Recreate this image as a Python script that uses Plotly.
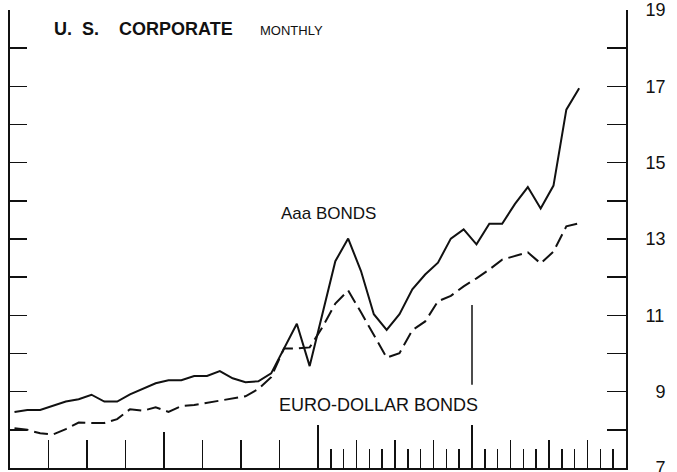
import plotly.graph_objects as go

# ---- data ----
obs_index = list(range(45))          # monthly observations, 4-year span
aaa_bonds = [8.47, 8.52, 8.52, 8.63, 8.74, 8.80, 8.92, 8.74, 8.74, 8.93,
             9.08, 9.22, 9.30, 9.30, 9.41, 9.41, 9.54, 9.35, 9.25, 9.27,
             9.48, 10.14, 10.78, 9.67, 11.03, 12.42, 13.01, 12.16, 11.03, 10.62,
             11.03, 11.68, 12.07, 12.38, 13.01, 13.25, 12.86, 13.40, 13.40, 13.92,
             14.36, 13.80, 14.40, 16.39, 16.95]
euro_dollar = [8.04, 8.00, 7.91, 7.88, 8.02, 8.19, 8.18, 8.18, 8.28, 8.54,
               8.50, 8.59, 8.47, 8.62, 8.65, 8.71, 8.76, 8.83, 8.88, 9.07,
               9.38, 10.13, 10.13, 10.16, 10.69, 11.31, 11.65, 11.08, 10.50, 9.89,
               10.01, 10.61, 10.84, 11.37, 11.51, 11.76, 11.97, 12.20, 12.46, 12.55,
               12.65, 12.36, 12.67, 13.33, 13.41]

y_ticks = list(range(7, 20))
y_labels = ["\u20077", "", "\u20079", "", "11", "", "13", "", "15", "", "17", "", "19"]
quarter_ticks = [3, 6, 9, 15, 18, 21, 27, 30, 33, 39, 42, 45]
month_ticks = [25, 26, 28, 29, 31, 32, 34, 35, 37, 38, 40, 41, 43, 44, 46, 47]
year_tick_first = [12]
year_ticks_later = [24, 36]
divider_month = 36
divider_span = [9.18, 11.27]

x_pos = [i + 0.35 for i in obs_index]

FONT = "Liberation Sans, Arial, Helvetica, sans-serif"
INK = "#111111"
NB = "\u00a0"

fig = go.Figure()
fig.add_trace(go.Scatter(x=x_pos, y=aaa_bonds, mode="lines",
                         line=dict(color=INK, width=2), showlegend=False, hoverinfo="skip"))
fig.add_trace(go.Scatter(x=x_pos, y=euro_dollar, mode="lines",
                         line=dict(color=INK, width=2, dash="14px,6px"), showlegend=False, hoverinfo="skip"))
# empty traces so the overlay axes exist
for xa, ya in [("x2", "y"), ("x3", "y"), ("x4", "y"), ("x", "y2"), ("x", "y3"), ("x", "y4")]:
    fig.add_trace(go.Scatter(x=[None], y=[None], xaxis=xa, yaxis=ya, showlegend=False, hoverinfo="skip"))

fig.add_trace(go.Scatter(x=[divider_month, divider_month], y=divider_span, mode="lines",
                         line=dict(color=INK, width=1.5), showlegend=False, hoverinfo="skip"))

xr = [0, 48]
yr = [7, 19]
base_x = dict(range=xr, showgrid=False, zeroline=False, showticklabels=False,
              ticks="inside", tickmode="array", tickcolor=INK, fixedrange=True,
              automargin=False)
base_y = dict(range=yr, showgrid=False, zeroline=False, ticks="inside",
              tickmode="array", tickcolor=INK, fixedrange=True, automargin=False)

fig.update_layout(
    width=677, height=472,
    margin=dict(l=10, r=51, t=10, b=4),
    paper_bgcolor="white", plot_bgcolor="white",
    font=dict(family=FONT, color=INK),
    xaxis=dict(**base_x, tickvals=quarter_ticks, ticklen=28, tickwidth=1.5,
               showline=True, linecolor=INK, linewidth=2, anchor="y"),
    xaxis2=dict(**base_x, tickvals=month_ticks, ticklen=19, tickwidth=1.5,
                overlaying="x", anchor="y", showline=False),
    xaxis3=dict(**base_x, tickvals=year_tick_first, ticklen=36, tickwidth=2.2,
                overlaying="x", anchor="y", showline=False),
    xaxis4=dict(**base_x, tickvals=year_ticks_later, ticklen=43, tickwidth=1.8,
                overlaying="x", anchor="y", showline=False),
    yaxis=dict(**base_y, side="right", tickvals=y_ticks, ticktext=y_labels,
               ticklen=19, tickwidth=1.5, showline=True, linecolor=INK, linewidth=2,
               tickfont=dict(size=18, family=FONT, color=INK), ticklabelstandoff=14,
               ticklabeloverflow="allow", anchor="x"),
    yaxis2=dict(**base_y, side="left", overlaying="y", tickvals=y_ticks[1:-1],
                ticklen=17, tickwidth=1.5, showline=True, linecolor=INK, linewidth=2,
                showticklabels=False, anchor="x"),
    yaxis3=dict(**base_y, side="right", overlaying="y", tickvals=[19],
                ticklen=29, tickwidth=2, showline=False, showticklabels=False, anchor="x"),
    yaxis4=dict(**base_y, side="left", overlaying="y", tickvals=[19],
                ticklen=29, tickwidth=2, showline=False, showticklabels=False, anchor="x"),
    annotations=[
        dict(x=3.24, y=18.50, xref="x", yref="y",
             text="<b>U." + NB * 2 + "S." + NB * 4 + "CORPORATE</b>",
             showarrow=False, xanchor="left", yanchor="middle",
             font=dict(size=18, family=FONT, color=INK)),
        dict(x=19.32, y=18.47, xref="x", yref="y", text="MONTHLY",
             showarrow=False, xanchor="left", yanchor="middle",
             font=dict(size=13, family=FONT, color=INK)),
        dict(x=20.96, y=13.68, xref="x", yref="y", text="Aaa BONDS",
             showarrow=False, xanchor="left", yanchor="middle",
             font=dict(size=17, family=FONT, color=INK)),
        dict(x=20.80, y=8.64, xref="x", yref="y", text="EURO-DOLLAR BONDS",
             showarrow=False, xanchor="left", yanchor="middle",
             font=dict(size=18, family=FONT, color=INK)),
    ],
)

fig.write_html("out.html", config={"displayModeBar": False, "staticPlot": True},
               post_script="document.body.style.margin='0';document.body.style.overflow='hidden';")
